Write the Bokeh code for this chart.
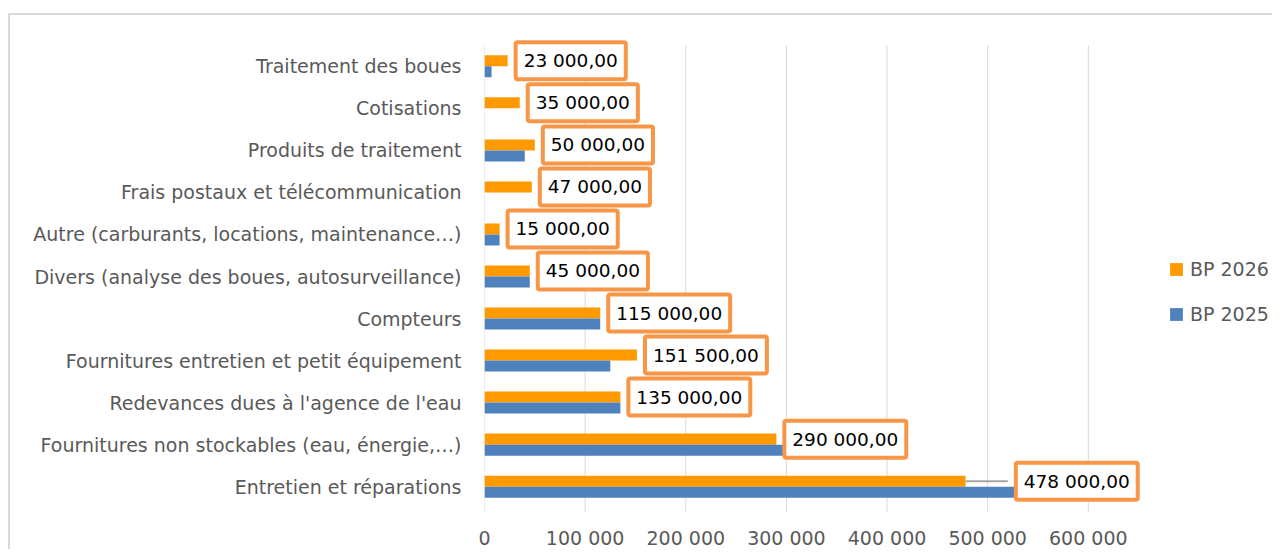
from bokeh.plotting import figure
from bokeh.models import (ColumnDataSource, FactorRange, Range1d, FixedTicker,
                          Legend, LegendItem)
from bokeh.core.properties import value
from bokeh.transform import dodge
from bokeh.embed import file_html
from bokeh.resources import INLINE

# ---------------- data ----------------
categories = [
    "Entretien et réparations",
    "Fournitures non stockables (eau, énergie,…)",
    "Redevances dues à l'agence de l'eau",
    "Fournitures entretien et petit équipement",
    "Compteurs",
    "Divers (analyse des boues, autosurveillance)",
    "Autre (carburants, locations, maintenance…)",
    "Frais postaux et télécommunication",
    "Produits de traitement",
    "Cotisations",
    "Traitement des boues",
]
bp_2026 = [478000, 290000, 135000, 151500, 115000, 45000, 15000, 47000, 50000, 35000, 23000]
bp_2025 = [530000, 340000, 135000, 125000, 115000, 45000, 15000, 0, 40000, 0, 7000]
tick_values = [0, 100000, 200000, 300000, 400000, 500000, 600000]
tick_labels = ["0", "100 000", "200 000", "300 000", "400 000", "500 000", "600 000"]
# data label moved right (with leader line) for the first category
label_anchor_2026 = [520000] + bp_2026[1:]


def fr(v):
    return f"{v:,.2f}".replace(",", " ").replace(".", ",")


label_text = [fr(v) for v in bp_2026]

FONT = "DejaVu Sans"
ORANGE = "#FF9900"
BLUE = "#4F81BD"
LABEL_BORDER = "#F79646"
GRID = "#D9D9D9"
TXT = "#595959"

# ---------------- layout ----------------
ox, oy = 10, 15          # page position of the canvas
W = 1274 - ox
H = 551 - oy
FL, FT, FB = 484, 28, 524  # frame left / top / bottom in page px
PAD = 0.4                  # category padding at both ends of the y range

src = ColumnDataSource(dict(cat=categories, v26=bp_2026, v25=bp_2025,
                            lx=label_anchor_2026, txt=label_text))

p = figure(width=W, height=H,
           y_range=FactorRange(factors=categories, range_padding=PAD,
                               range_padding_units="absolute"),
           x_range=Range1d(0, 785000), output_backend="svg", toolbar_location=None,
           min_border_left=FL - ox, min_border_right=0, min_border_top=FT - oy,
           min_border_bottom=H - (FB - oy))
p.margin = (13, 0, 0, 8)
p.styles = {"border-top": "2px solid #D9D9D9", "border-left": "2px solid #D9D9D9"}
p.outline_line_color = None
p.background_fill_color = "white"
p.border_fill_color = "white"

# vertical gridlines (and the category axis line at 0), spanning the category band
grid_src = ColumnDataSource(dict(x=tick_values, y0=[categories[0]] * len(tick_values),
                                 y1=[categories[-1]] * len(tick_values)))
p.segment(x0="x", x1="x", y0=dodge("y0", -0.6, range=p.y_range),
          y1=dodge("y1", 0.5, range=p.y_range), source=grid_src,
          line_color=GRID, line_width=1)

bw = 0.262
r26 = p.hbar(y=dodge("cat", bw / 2, range=p.y_range), right="v26", left=0, height=bw,
             source=src, fill_color=ORANGE, line_color=None)
r25 = p.hbar(y=dodge("cat", -bw / 2, range=p.y_range), right="v25", left=0, height=bw,
             source=src, fill_color=BLUE, line_color=None)

# leader line for the moved label
lead = ColumnDataSource(dict(x0=bp_2026[:1], x1=label_anchor_2026[:1], y=categories[:1]))
p.segment(x0="x0", x1="x1", y0=dodge("y", bw / 2, range=p.y_range),
          y1=dodge("y", bw / 2, range=p.y_range), source=lead,
          line_color="#A6A6A6", line_width=2)

p.text(x="lx", y=dodge("cat", bw / 2, range=p.y_range), text="txt", source=src,
       x_offset=8, y_offset=0, text_align="left", text_baseline="middle",
       text_font=value(FONT), text_font_size="18.5px", text_color="black",
       background_fill_color="white", border_line_color=LABEL_BORDER,
       border_line_width=4, padding=8, border_radius=2)

# axes
p.xaxis.ticker = FixedTicker(ticks=tick_values)
p.xaxis.major_label_overrides = {v: t for v, t in zip(tick_values, tick_labels)}
p.xaxis.axis_line_color = None
p.xaxis.major_tick_line_color = None
p.xaxis.major_tick_out = 0
p.xaxis.major_tick_in = 0
p.xaxis.minor_tick_line_color = None
p.xaxis.major_label_standoff = 2
p.xaxis.major_label_text_font = FONT
p.xaxis.major_label_text_font_size = "19px"
p.xaxis.major_label_text_color = TXT

p.yaxis.axis_line_color = None
p.yaxis.major_tick_line_color = None
p.yaxis.major_tick_out = 0
p.yaxis.major_tick_in = 0
p.yaxis.minor_tick_line_color = None
p.yaxis.major_label_standoff = 23
p.yaxis.major_label_text_font = FONT
p.yaxis.major_label_text_font_size = "19px"
p.yaxis.major_label_text_color = TXT

p.xgrid.grid_line_color = None
p.ygrid.grid_line_color = None

legend = Legend(items=[LegendItem(label="BP 2026", renderers=[r26]),
                       LegendItem(label="BP 2025", renderers=[r25])],
                location=(684, FB - 327), padding=0, margin=0, spacing=19,
                label_height=26, glyph_height=16, glyph_width=16, label_standoff=6,
                label_text_font=FONT, label_text_font_size="19px", label_text_color=TXT,
                border_line_color=None, background_fill_alpha=0)
p.add_layout(legend)

open("out.html", "w").write(file_html(p, INLINE))
